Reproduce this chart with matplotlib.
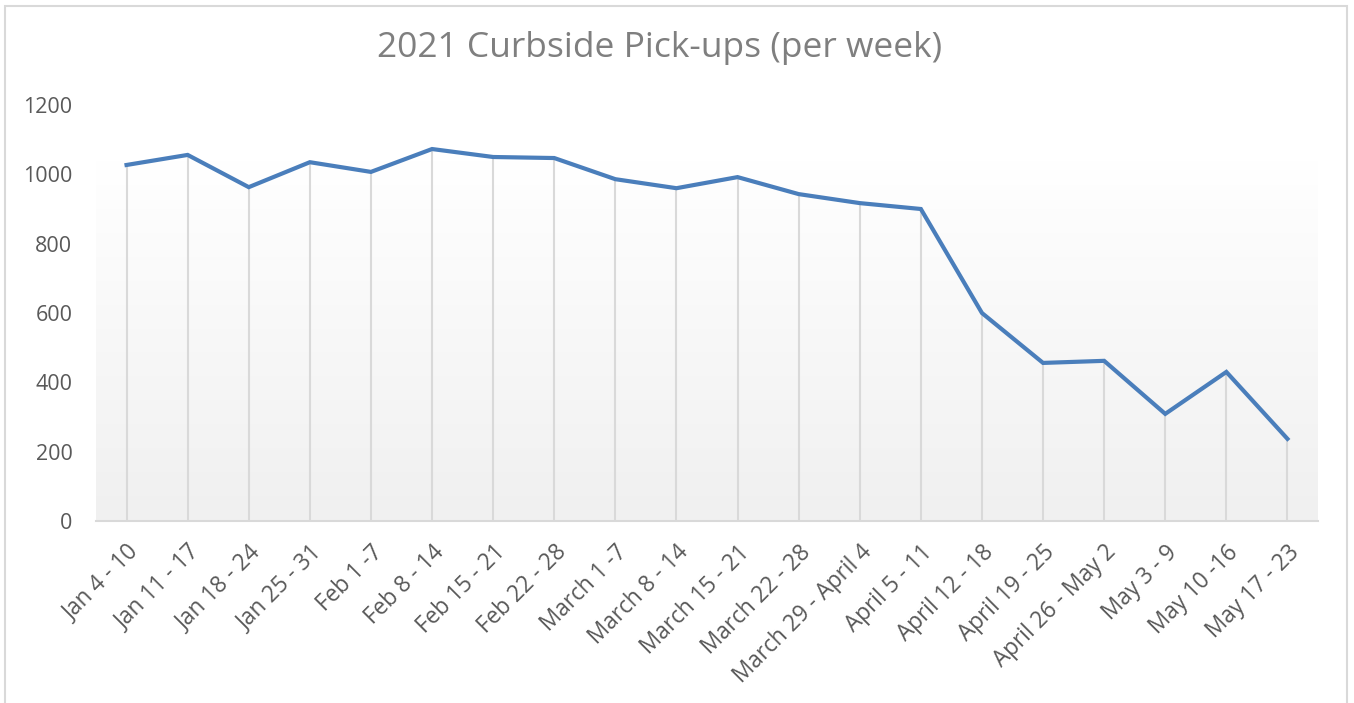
import numpy as np
import matplotlib
matplotlib.use("Agg")
import matplotlib.pyplot as plt
from matplotlib.colors import LinearSegmentedColormap
from matplotlib.patches import Rectangle

weeks = ["Jan 4 - 10", "Jan 11 - 17", "Jan 18 - 24", "Jan 25 - 31", "Feb 1 -7",
         "Feb 8 - 14", "Feb 15 - 21", "Feb 22 - 28", "March 1 -7", "March 8 - 14",
         "March 15 - 21", "March 22 - 28", "March 29 - April 4", "April 5 - 11",
         "April 12 - 18", "April 19 - 25", "April 26 - May 2", "May 3 - 9",
         "May 10 -16", "May 17 - 23"]
pickups = [1027, 1056, 963, 1035, 1007, 1073, 1050, 1047, 986, 960,
           992, 943, 917, 900, 600, 456, 462, 309, 430, 237]
yticks = [0, 200, 400, 600, 800, 1000, 1200]

plt.rcParams['font.family'] = ['Open Sans', 'DejaVu Sans']
text_col = "#595959"

fig = plt.figure(figsize=(13.54, 7.03), dpi=100)
ax = fig.add_axes([96/1354, 1 - 521/703, (1318-96)/1354, (521-105)/703])

x = np.arange(len(weeks))
ax.set_xlim(-0.5, len(weeks) - 0.5)
ax.set_ylim(0, 1200)

# gradient fill of the plot area
cmap = LinearSegmentedColormap.from_list("bg", ["#f0f0f0", "#ffffff"])
grad = np.linspace(0, 1, 256).reshape(-1, 1)
ax.imshow(grad, extent=(-0.5, len(weeks) - 0.5, 0, 1040), origin="lower",
          aspect="auto", cmap=cmap, zorder=0)

# drop lines
ax.vlines(x, 0, pickups, color="#d9d9d9", linewidth=1.5, zorder=1)
ax.plot(x, pickups, color="#4a7ebb", linewidth=3.0, zorder=3,
        solid_joinstyle="miter")

for s in ["top", "right", "left"]:
    ax.spines[s].set_visible(False)
ax.spines["bottom"].set_color("#d9d9d9")
ax.spines["bottom"].set_linewidth(1.5)

ax.set_yticks(yticks)
ax.set_yticklabels([str(v) for v in yticks])
ax.set_xticks(x)
ax.set_xticklabels(weeks, rotation=45, ha="right", rotation_mode="anchor")
ax.tick_params(axis="both", length=0, colors=text_col)
ax.tick_params(axis="y", pad=17, labelsize=15.5)
ax.tick_params(axis="x", pad=14, labelsize=16.3)

fig.text(660/1354, 1 - 48/703, "2021 Curbside Pick-ups (per week)",
         ha="center", va="center", fontsize=25.5, color="#7f7f7f")

# chart border
fig.patches.append(Rectangle((5/1354, -0.1), (1347-5)/1354, 1.1 - 6/703,
                             transform=fig.transFigure, fill=False,
                             edgecolor="#d9d9d9", linewidth=1.5))

fig.savefig("out.png", dpi=100)
